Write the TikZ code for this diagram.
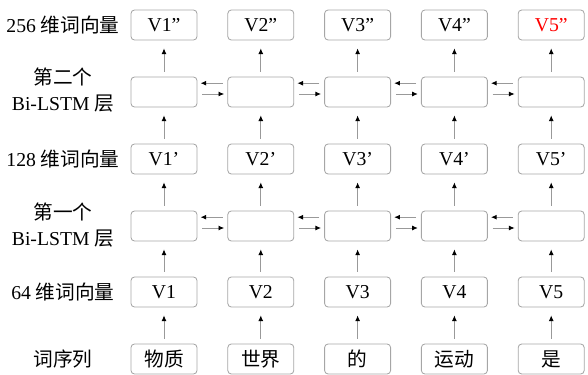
\documentclass[tikz,border=0pt]{standalone}
\usepackage{fontspec}
\setmainfont{Liberation Serif}
\newfontfamily\cjk{Noto Sans CJK SC}
\usetikzlibrary{arrows.meta}
\tikzset{
  cell/.style={draw=gray!70, rounded corners=2.5pt, line width=0.6pt,
    minimum width=1.65cm, minimum height=0.75cm, inner sep=0pt,
    font=\fontsize{14}{17}\selectfont},
  lab/.style={align=center, font=\fontsize{14}{18}\selectfont},
  up/.style={draw=gray!80, line width=0.6pt, -{Latex[black,length=4pt,width=3.5pt]},
    shorten <=0.12cm, shorten >=0.2cm},
  side/.style={draw=gray!80, line width=0.6pt, -{Latex[black,length=4pt,width=3.5pt]},
    shorten <=0.12cm, shorten >=0.08cm}
}
\begin{document}
\begin{tikzpicture}
  \useasboundingbox (0,0) rectangle (14.7,9.35);
  % row labels
  \node[lab] (lq) at (1.575,8.725) {256 {\cjk 维词向量}};
  \node[lab] (lb) at (1.575,7.1) {{\cjk 第二个}\\Bi-LSTM {\cjk 层}};
  \node[lab] (lp) at (1.575,5.375) {128 {\cjk 维词向量}};
  \node[lab] (la) at (1.575,3.72) {{\cjk 第一个}\\Bi-LSTM {\cjk 层}};
  \node[lab] (lv) at (1.575,2.05) {64 {\cjk 维词向量}};
  \node[lab] (lw) at (1.575,0.375) {\cjk 词序列};
  % columns: word -> vector -> lstm -> vector -> lstm -> vector
  \foreach \i/\w/\c in {1/物质/black,2/世界/black,3/的/black,4/运动/black,5/是/red}{
    \node[cell] (w\i) at ({1.68+2.42*\i},0.375) {\cjk \w};
    \node[cell] (v\i) at ({1.68+2.42*\i},2.05) {V\i};
    \node[cell] (a\i) at ({1.68+2.42*\i},3.7) {};
    \node[cell] (p\i) at ({1.68+2.42*\i},5.375) {V\i’};
    \node[cell] (b\i) at ({1.68+2.42*\i},7.05) {};
    \node[cell, text=\c] (q\i) at ({1.68+2.42*\i},8.725) {V\i”};
    \draw[up] (w\i) -- (v\i);
    \draw[up] (v\i) -- (a\i);
    \draw[up] (a\i) -- (p\i);
    \draw[up] (p\i) -- (b\i);
    \draw[up] (b\i) -- (q\i);
  }
  % both directions between neighbouring cells
  \foreach \i/\j in {1/2,2/3,3/4,4/5}{
    \foreach \r in {a,b}{
      \draw[side] ([yshift=0.22cm]\r\j.west) -- ([yshift=0.22cm]\r\i.east);
      \draw[side] ([yshift=-0.05cm]\r\i.east) -- ([yshift=-0.05cm]\r\j.west);
    }
  }
\end{tikzpicture}
\end{document}
